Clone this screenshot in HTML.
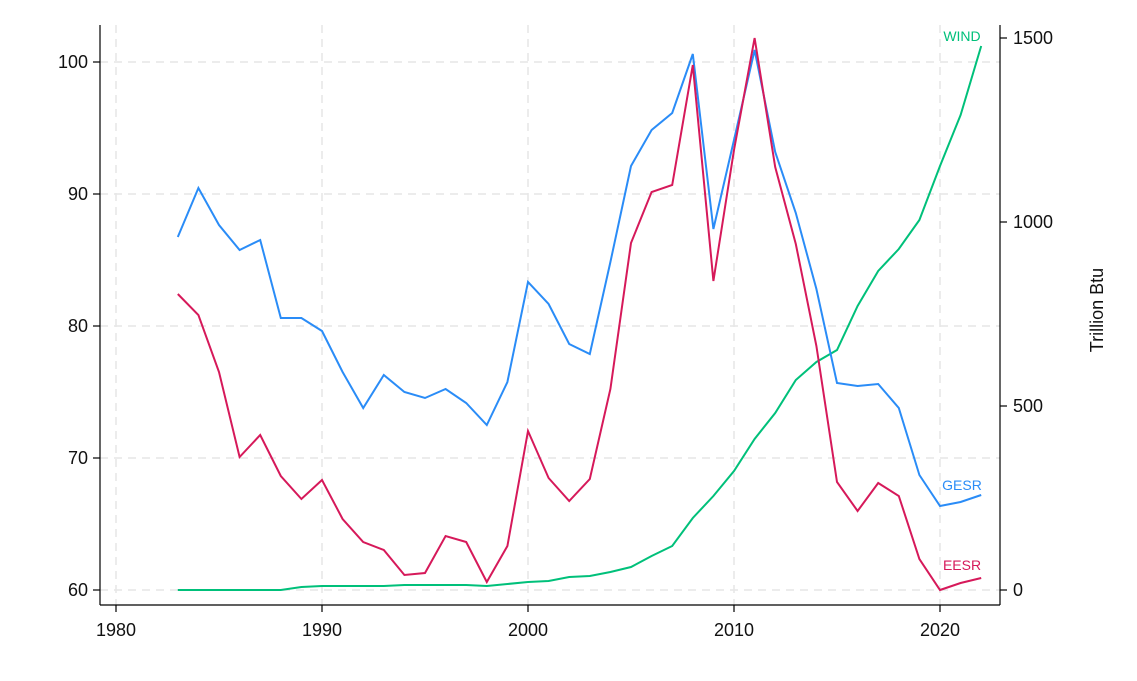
<!DOCTYPE html>
<html><head><meta charset="utf-8"><style>
html,body{margin:0;padding:0;background:#fff;}
svg{display:block;font-family:"Liberation Sans",Arial,sans-serif;}
</style></head><body>
<svg id="s" width="1137" height="681" viewBox="0 0 1137 681" xmlns="http://www.w3.org/2000/svg">
<rect width="1137" height="681" fill="#fff"/>
<g stroke="#e6e6e6" stroke-width="1.5" stroke-dasharray="8,6" fill="none">
<line x1="116" y1="25" x2="116" y2="605"/><line x1="322" y1="25" x2="322" y2="605"/><line x1="528" y1="25" x2="528" y2="605"/><line x1="734" y1="25" x2="734" y2="605"/><line x1="940" y1="25" x2="940" y2="605"/>
<line x1="100" y1="62" x2="1000" y2="62"/><line x1="100" y1="194" x2="1000" y2="194"/><line x1="100" y1="326" x2="1000" y2="326"/><line x1="100" y1="458" x2="1000" y2="458"/><line x1="100" y1="590" x2="1000" y2="590"/>
</g>
<g stroke="#000" stroke-width="1.2" fill="none">
<line x1="100" y1="25" x2="100" y2="605"/><line x1="100" y1="605" x2="1000" y2="605"/><line x1="1000" y1="25" x2="1000" y2="605"/>
<line x1="93" y1="62" x2="100" y2="62"/><line x1="93" y1="194" x2="100" y2="194"/><line x1="93" y1="326" x2="100" y2="326"/><line x1="93" y1="458" x2="100" y2="458"/><line x1="93" y1="590" x2="100" y2="590"/>
<line x1="116" y1="605" x2="116" y2="612"/><line x1="322" y1="605" x2="322" y2="612"/><line x1="528" y1="605" x2="528" y2="612"/><line x1="734" y1="605" x2="734" y2="612"/><line x1="940" y1="605" x2="940" y2="612"/>
<line x1="1000" y1="38" x2="1007" y2="38"/><line x1="1000" y1="222" x2="1007" y2="222"/><line x1="1000" y1="406" x2="1007" y2="406"/><line x1="1000" y1="590" x2="1007" y2="590"/>
</g>
<g font-size="18" fill="#111" text-anchor="end">
<text x="88" y="68">100</text><text x="88" y="200">90</text><text x="88" y="332">80</text><text x="88" y="464">70</text><text x="88" y="596">60</text>
</g>
<g font-size="18" fill="#111" text-anchor="start">
<text x="1013" y="44">1500</text><text x="1013" y="228">1000</text><text x="1013" y="412">500</text><text x="1013" y="596">0</text>
</g>
<g font-size="18" fill="#111" text-anchor="middle">
<text x="116" y="636">1980</text><text x="322" y="636">1990</text><text x="528" y="636">2000</text><text x="734" y="636">2010</text><text x="940" y="636">2020</text>
</g>
<text x="1103" y="310" font-size="18" fill="#111" text-anchor="middle" transform="rotate(-90 1103 310)">Trillion Btu</text>
<polyline id="g" fill="none" stroke="#00c07a" stroke-width="2"/>
<polyline id="b" fill="none" stroke="#2a8cf7" stroke-width="2"/>
<polyline id="r" fill="none" stroke="#d6195a" stroke-width="2"/>
<text x="962" y="41" font-size="14" fill="#00c07a" text-anchor="middle">WIND</text>
<text x="962" y="490" font-size="14" fill="#2a8cf7" text-anchor="middle">GESR</text>
<text x="962" y="570" font-size="14" fill="#d6195a" text-anchor="middle">EESR</text>
<script>
var B=[237,188,225,250,240,318,318,331,372,408,375,392,398,389,403,425,382,282,304,344,354,262,166,130,113,54,229,140,50,152,213,289,383,386,384,408,475,506,502,495];
var R=[294,315,372,457,435,476,499,480,519,542,550,575,573,536,542,582,546,431,478,501,479,389,243,192,185,65,281,150,38,167,244,346,482,511,483,496,559,590,583,578];
var G=[590,590,590,590,590,590,587,586,586,586,586,585,585,585,585,586,584,582,581,577,576,572,567,556,546,518,496,471,439,413,380,362,350,306,271,249,220,166,115,46];
function pts(a){return a.map(function(y,i){return (116+20.6*(3+i)).toFixed(1)+","+y}).join(" ");}
document.getElementById("b").setAttribute("points",pts(B));
document.getElementById("r").setAttribute("points",pts(R));
document.getElementById("g").setAttribute("points",pts(G));
</script>
</svg>
</body></html>
